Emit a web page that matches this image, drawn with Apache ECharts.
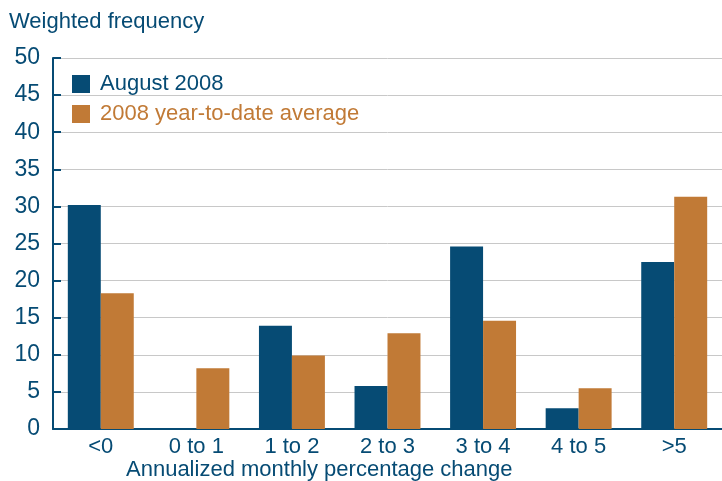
<!DOCTYPE html>
<html>
<head>
<meta charset="utf-8">
<script src="https://cdn.jsdelivr.net/npm/echarts@6/dist/echarts.min.js"></script>
<style>
  html, body { margin: 0; padding: 0; background: #fff; }
  #chart { width: 722px; height: 481px; }
</style>
</head>
<body>
<div id="chart"></div>
<script>
// categories: annualized monthly percentage change buckets
var categories = ['<0', '0 to 1', '1 to 2', '2 to 3', '3 to 4', '4 to 5', '>5'];
var august2008 = [30.2, 0, 13.9, 5.8, 24.6, 2.8, 22.5];
var ytdAverage = [18.3, 8.2, 9.9, 12.9, 14.6, 5.5, 31.3];
var yTicks = [0, 5, 10, 15, 20, 25, 30, 35, 40, 45, 50];

var navy = '#064b74';
var orange = '#c17a36';
var font = 'Liberation Sans, Arial, sans-serif';

var myChart = echarts.init(document.getElementById('chart'));

var option = {
    animation: false,
    textStyle: {fontFamily: font},
    title: [
        {
            text: 'Weighted frequency',
            left: 4, top: 6,
            textStyle: {color: navy, fontSize: 22, fontWeight: 'normal', fontFamily: font}
        },
        {
            text: 'Annualized monthly percentage change',
            left: 121, top: 454,
            textStyle: {color: navy, fontSize: 22, fontWeight: 'normal', fontFamily: font}
        }
    ],
    legend: {
        orient: 'vertical',
        left: 67, top: 68,
        itemWidth: 18, itemHeight: 18,
        itemGap: 8,
        icon: 'rect',
        data: [
            {name: 'August 2008', textStyle: {color: navy}},
            {name: '2008 year-to-date average', textStyle: {color: orange}}
        ],
        textStyle: {fontSize: 22, fontFamily: font, padding: [0, 0, 0, 5]}
    },
    grid: {left: 53, right: 0, top: 58, bottom: 52},
    xAxis: {
        type: 'category',
        data: categories,
        axisLine: {lineStyle: {color: navy, width: 2}},
        axisTick: {inside: true, length: 6, lineStyle: {color: navy, width: 2}},
        axisLabel: {color: navy, fontSize: 22, margin: 7, fontFamily: font}
    },
    yAxis: {
        type: 'value',
        min: yTicks[0], max: yTicks[yTicks.length - 1], interval: 5,
        axisLine: {show: true, lineStyle: {color: navy, width: 2}},
        axisTick: {show: true, inside: true, length: 8, lineStyle: {color: navy, width: 2}},
        axisLabel: {color: navy, fontSize: 23, margin: 13, fontFamily: font},
        splitLine: {lineStyle: {color: '#c8c8c8', width: 1}}
    },
    series: [
        {
            name: 'August 2008',
            type: 'bar',
            data: august2008,
            barWidth: '34.5%',
            barGap: '0%',
            itemStyle: {color: navy}
        },
        {
            name: '2008 year-to-date average',
            type: 'bar',
            data: ytdAverage,
            barWidth: '34.5%',
            itemStyle: {color: orange}
        }
    ]
};

myChart.setOption(option);
</script>
</body>
</html>
